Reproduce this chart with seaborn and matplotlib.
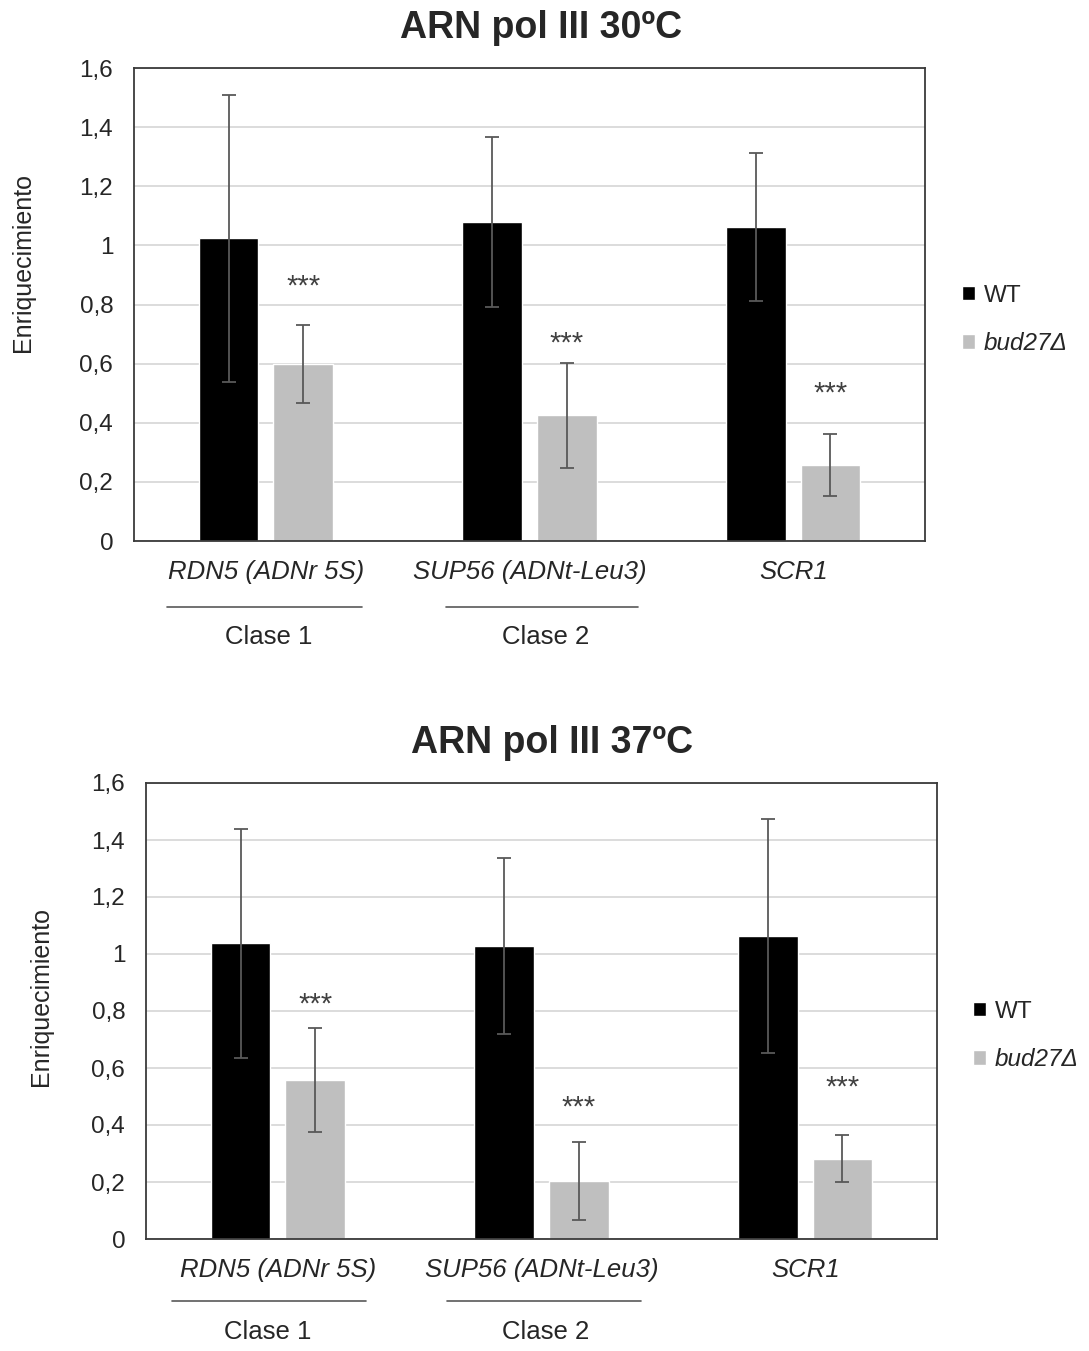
import numpy as np
import pandas as pd
import matplotlib
matplotlib.use("Agg")
import matplotlib.pyplot as plt
import matplotlib.transforms as mtransforms
from matplotlib.patches import Patch
import seaborn as sns

# -------------------------------------
# DATA
# -------------------------------------
genes = ["RDN5 (ADNr 5S)", "SUP56 (ADNt-Leu3)", "SCR1"]
strains = ["WT", "bud27Δ"]
yticks = [0, 0.2, 0.4, 0.6, 0.8, 1.0, 1.2, 1.4, 1.6]

# 30ºC
wt_30 = [1.024, 1.080, 1.063]
wt_30_err = [0.486, 0.287, 0.251]
bud_30 = [0.600, 0.425, 0.256]
bud_30_err = [0.132, 0.177, 0.105]
stars_30 = [0.874, 0.682, 0.511]

# 37ºC
wt_37 = [1.037, 1.029, 1.064]
wt_37_err = [0.403, 0.308, 0.410]
bud_37 = [0.557, 0.202, 0.282]
bud_37_err = [0.182, 0.137, 0.083]
stars_37 = [0.836, 0.473, 0.546]

titles = ["ARN pol III 30ºC", "ARN pol III 37ºC"]
classes = ["Clase 1", "Clase 2"]

# -------------------------------------
# STYLE
# -------------------------------------
sns.set_style("white")
plt.rcParams["font.family"] = ["Liberation Sans", "DejaVu Sans"]

colors = ["#000000", "#bfbfbf"]
err_color = "#595959"
grid_color = "#d9d9d9"

fig = plt.figure(figsize=(10.89, 13.51), dpi=100)
W, H = 1089, 1351


def make_panel(rect, wt, wt_err, bud, bud_err, stars, title, title_xy,
               ylab_xy, legend_xy, line_y, clase_y, lines_x, clase_x):
    ax = fig.add_axes(rect)
    df = pd.DataFrame({
        "gen": genes * 2,
        "cepa": [strains[0]] * 3 + [strains[1]] * 3,
        "valor": wt + bud,
    })
    sns.barplot(data=df, x="gen", y="valor", hue="cepa", palette=colors,
                width=0.565, gap=0.2, errorbar=None, legend=False, ax=ax,
                saturation=1)

    # error bars and significance stars
    for cont, vals, errs in zip(ax.containers, [wt, bud], [wt_err, bud_err]):
        xs = [p.get_x() + p.get_width() / 2 for p in cont]
        ax.errorbar(xs, vals, yerr=errs, fmt="none", ecolor=err_color,
                    elinewidth=1.3, capsize=4.7, capthick=1.3, zorder=3)
    bud_x = [p.get_x() + p.get_width() / 2 for p in ax.containers[1]]
    for x, s in zip(bud_x, stars):
        ax.annotate("***", (x, s), xytext=(0, -8.5), textcoords="offset points",
                    ha="center", va="baseline", fontsize=21, color="#404040")

    ax.set_xlim(-0.5, 2.5)
    ax.set_ylim(0, 1.6)
    ax.set_yticks(yticks)
    ax.set_yticklabels(["{:g}".format(round(v, 1)).replace(".", ",") for v in yticks],
                       fontsize=17.5)
    ax.set_xticks(range(len(genes)))
    ax.set_xticklabels(genes, fontsize=18.5, style="italic")
    ax.tick_params(axis="y", length=0, pad=15)
    ax.tick_params(axis="x", length=0, pad=14)
    ax.set_xlabel("")
    ax.set_ylabel("")
    ax.yaxis.grid(True, color=grid_color, lw=1.3)
    ax.set_axisbelow(True)
    for sp in ax.spines.values():
        sp.set_color("#3a3a3a")
        sp.set_linewidth(1.3)

    # class annotations under the gene names
    trans = mtransforms.blended_transform_factory(ax.transData, ax.transAxes)
    for (x0, x1), cx, name in zip(lines_x, clase_x, classes):
        ax.plot([x0, x1], [line_y, line_y], color="#595959", lw=1.2,
                transform=trans, clip_on=False)
        ax.text(cx, clase_y, name, transform=trans, ha="center", va="center",
                fontsize=18.5)

    fig.text(title_xy[0] / W, 1 - title_xy[1] / H, title, ha="center",
             va="center", fontsize=27, fontweight="bold")
    fig.text(ylab_xy[0] / W, 1 - ylab_xy[1] / H, "Enriquecimiento", rotation=90,
             ha="center", va="center", fontsize=18)

    handles = [Patch(facecolor=colors[0]), Patch(facecolor=colors[1])]
    leg = fig.legend(handles, ["WT", "bud27Δ"], loc="center left",
                     bbox_to_anchor=(legend_xy[0] / W, 1 - legend_xy[1] / H),
                     frameon=False, fontsize=17.5, handlelength=0.55,
                     handleheight=0.55, handletextpad=0.35, labelspacing=1.05,
                     borderpad=0, borderaxespad=0)
    leg.get_texts()[1].set_style("italic")
    return ax


make_panel([134 / W, 1 - 541 / H, 791 / W, 473 / H],
           wt_30, wt_30_err, bud_30, bud_30_err, stars_30, titles[0],
           title_xy=(541, 28), ylab_xy=(23, 262), legend_xy=(962, 320),
           line_y=-0.139, clase_y=-0.203,
           lines_x=[(-0.375, 0.365), (0.683, 1.411)], clase_x=[0.01, 1.06])

make_panel([146 / W, 1 - 1239 / H, 791 / W, 456 / H],
           wt_37, wt_37_err, bud_37, bud_37_err, stars_37, titles[1],
           title_xy=(552, 743), ylab_xy=(41, 996), legend_xy=(973, 1036),
           line_y=-0.136, clase_y=-0.204,
           lines_x=[(-0.40, 0.335), (0.642, 1.377)], clase_x=[-0.037, 1.014])

fig.savefig("out.png", dpi=100)
